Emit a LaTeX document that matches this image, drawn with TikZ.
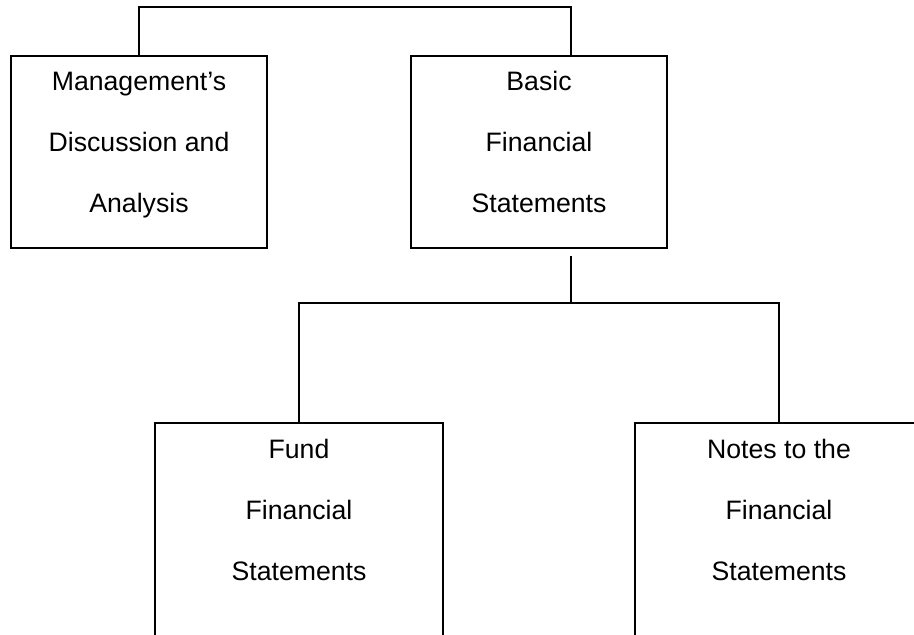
\documentclass[tikz,border=0pt]{standalone}
\usepackage{fontspec}
\setmainfont{Liberation Sans}
\usepackage{tikz}
\usetikzlibrary{positioning}

\begin{document}
\begin{tikzpicture}[x=0.5pt,y=-0.5pt,line width=0.8pt,node distance=72pt]
\tikzstyle{doc}=[draw=black,line width=1pt,rectangle,inner sep=0pt,outer sep=0pt,align=center,text height=78.5pt,font=\fontsize{13.33}{30.5}\selectfont]
\tikzstyle{top doc}=[doc,minimum width=128pt,text depth=17.5pt]
\tikzstyle{sub doc}=[doc,minimum width=144pt,text depth=41.5pt]
\useasboundingbox (0,0) rectangle (914,635);
\node[top doc,anchor=north] (mda) at (139,56) {Management’s\\Discussion and\\Analysis};
\node[top doc][right=of mda] (basic) {Basic\\Financial\\Statements};
\node[sub doc,anchor=north] (fund) at (299,423) {Fund\\Financial\\Statements};
\node[sub doc][right=96pt of fund] (notes) {Notes to the\\Financial\\Statements};
\coordinate (top) at (355,7);
\coordinate (bus) at (571,303);
\draw (mda.north) |- (top) -| ([xshift=16pt]basic.north);
\draw ([xshift=16pt,yshift=-4pt]basic.south) -- (bus);
\draw (fund.north) |- (bus) -| (notes.north);
\end{tikzpicture}
\end{document}
